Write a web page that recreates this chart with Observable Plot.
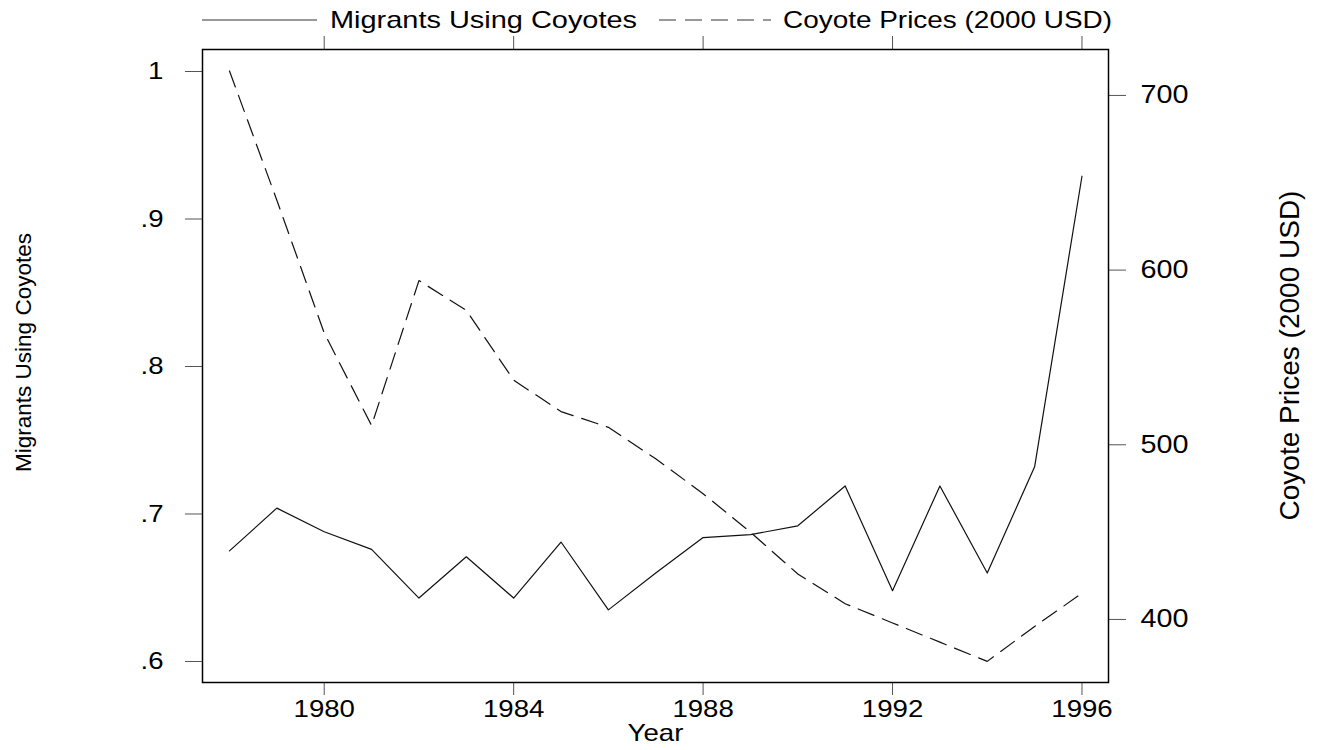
<!DOCTYPE html>
<html><head><meta charset="utf-8">
<script src="https://cdn.jsdelivr.net/npm/d3@7"></script>
<script src="https://cdn.jsdelivr.net/npm/@observablehq/plot@0.6"></script>
<style>
body{margin:0;background:#fff;font-family:"Liberation Sans",Arial,Helvetica,sans-serif;}
#legend svg, #chart svg{display:block;}
</style></head><body>
<div id="legend"></div>
<div id="chart"></div>
<script>
const years = [1978,1979,1980,1981,1982,1983,1984,1985,1986,1987,1988,1989,1990,1991,1992,1993,1994,1995,1996];
const migrantsUsingCoyotes = [0.675,0.704,0.688,0.676,0.643,0.671,0.643,0.681,0.635,0.660,0.684,0.686,0.692,0.719,0.648,0.719,0.660,0.732,0.929];
const coyotePrices = [714,640,564,511,594,577,537,519,510,492,472,450,426,409,398,387,376,396,415];
const seriesNames = ["Migrants Using Coyotes","Coyote Prices (2000 USD)"];
const xTicks = [1980,1984,1988,1992,1996];
const leftTicks = [0.6,0.7,0.8,0.9,1];
const rightTicks = [400,500,600,700];
const xTitle = "Year";

const leftDomain = [0.58576, 1.01492];
const rightDomain = [363.9, 726.3];
const toLeft = p => leftDomain[0] + (p - rightDomain[0]) / (rightDomain[1] - rightDomain[0]) * (leftDomain[1] - leftDomain[0]);
const fromLeft = v => rightDomain[0] + (v - leftDomain[0]) / (leftDomain[1] - leftDomain[0]) * (rightDomain[1] - rightDomain[0]);

const migrantsData = years.map((yr, i) => ({year: yr, value: migrantsUsingCoyotes[i]}));
const priceData = years.map((yr, i) => ({year: yr, price: coyotePrices[i]}));

const FONT = '"Liberation Sans",Arial,Helvetica,sans-serif';
const DASH = "17,9";
const STRETCH = 1.15;

// Legend (above the chart)
const leg = d3.create("svg").attr("width", 1318).attr("height", 35);
leg.append("line").attr("x1", 202).attr("x2", 317).attr("y1", 20).attr("y2", 20).attr("stroke", "#333").attr("stroke-width", 1.2);
leg.append("text").attr("x", 330).attr("y", 28).attr("font-family", FONT).attr("font-size", 24)
  .attr("textLength", 307).attr("lengthAdjust", "spacingAndGlyphs").text(seriesNames[0]);
leg.append("line").attr("x1", 659).attr("x2", 771).attr("y1", 20).attr("y2", 20).attr("stroke", "#333").attr("stroke-width", 1.2).attr("stroke-dasharray", DASH);
leg.append("text").attr("x", 783).attr("y", 28).attr("font-family", FONT).attr("font-size", 24)
  .attr("textLength", 329).attr("lengthAdjust", "spacingAndGlyphs").text(seriesNames[1]);
document.getElementById("legend").append(leg.node());

const chart = Plot.plot({
  width: 1318, height: 715,
  marginLeft: 202, marginRight: 210, marginTop: 14, marginBottom: 68,
  style: {fontFamily: FONT, fontSize: "24px", color: "#000", background: "#fff", overflow: "visible"},
  x: {domain: [1977.43, 1996.56]},
  y: {domain: leftDomain},
  marks: [
    Plot.axisX({anchor: "bottom", ticks: xTicks, tickFormat: d => String(d), tickSize: 13, tickPadding: 4, label: null, stroke: "#555", fontSize: 24}),
    Plot.axisX({anchor: "top", ticks: xTicks, tickFormat: () => "", tickSize: 14, label: null, stroke: "#555"}),
    Plot.axisY({anchor: "left", ticks: leftTicks, tickFormat: d => d === 1 ? "1" : String(d).replace(/^0/, ""), tickSize: 17, tickPadding: 22, label: null, stroke: "#555", fontSize: 24}),
    Plot.axisY({anchor: "right", ticks: rightTicks.map(toLeft), tickFormat: v => String(Math.round(fromLeft(v))), tickSize: 17, tickPadding: 15, label: null, stroke: "#555", fontSize: 25}),
    Plot.frame({stroke: "#000", strokeWidth: 1.5}),
    Plot.line(migrantsData, {x: "year", y: "value", stroke: "#111", strokeWidth: 1.2}),
    Plot.line(priceData, {x: "year", y: d => toLeft(d.price), stroke: "#111", strokeWidth: 1.2, strokeDasharray: DASH}),
    Plot.text([xTitle], {frameAnchor: "bottom", text: d => d, dy: 51, lineAnchor: "middle", fontSize: 24}),
    Plot.text([seriesNames[0]], {frameAnchor: "left", text: d => d, rotate: -90, dx: -179, dy: -13.5, textAnchor: "middle", lineAnchor: "middle", fontSize: 22.5}),
    Plot.text([seriesNames[1]], {frameAnchor: "right", text: d => d, rotate: -90, dx: 182, dy: -10.5, textAnchor: "middle", lineAnchor: "middle", fontSize: 28})
  ]
});
document.getElementById("chart").append(chart);

// widen horizontal (non-rotated) text glyphs slightly, as in the reference rendering
chart.querySelectorAll("text").forEach(t => {
  const tr = (t.getAttribute("transform") || "") + (t.parentNode.getAttribute("transform") || "");
  if (/rotate/.test(tr) || !t.textContent) return;
  const w = t.getComputedTextLength();
  if (w > 0) {
    t.setAttribute("textLength", (w * STRETCH).toFixed(1));
    t.setAttribute("lengthAdjust", "spacingAndGlyphs");
  }
});
</script>
</body></html>
